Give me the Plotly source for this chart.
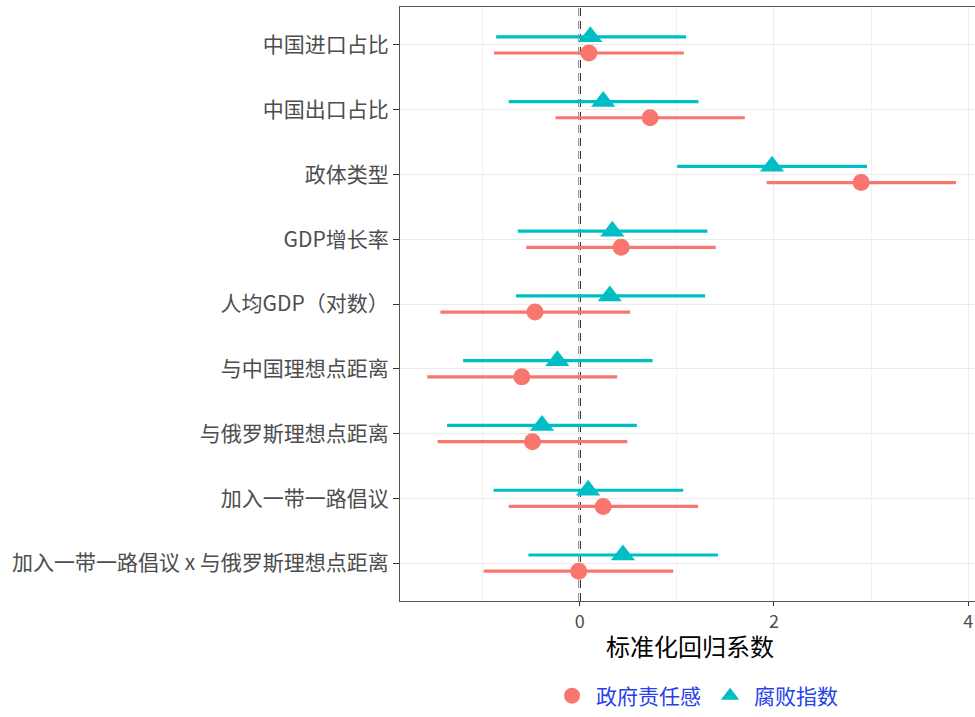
import plotly.graph_objects as go

variables = ["中国进口占比", "中国出口占比", "政体类型", "GDP增长率", "人均GDP（对数）",
             "与中国理想点距离", "与俄罗斯理想点距离", "加入一带一路倡议",
             "加入一带一路倡议 x 与俄罗斯理想点距离"]

# 政府责任感 (red)
gov_est = [0.095, 0.725, 2.898, 0.427, -0.46, -0.596, -0.486, 0.242, -0.01]
gov_lo = [-0.883, -0.249, 1.925, -0.55, -1.433, -1.569, -1.463, -0.73, -0.988]
gov_hi = [1.072, 1.70, 3.875, 1.40, 0.52, 0.386, 0.49, 1.219, 0.963]

# 腐败指数 (teal)
cor_est = [0.11, 0.242, 1.98, 0.336, 0.31, -0.23, -0.388, 0.087, 0.445]
cor_lo = [-0.86, -0.73, 1.004, -0.637, -0.656, -1.20, -1.365, -0.886, -0.528]
cor_hi = [1.095, 1.223, 2.958, 1.314, 1.29, 0.751, 0.589, 1.065, 1.423]

series_names = ["政府责任感", "腐败指数"]
x_ticks = [0, 2, 4]
x_title = "标准化回归系数"

RED = "#F8766D"
TEAL = "#00BFC4"
n = len(variables)
base = [n - 1 - i for i in range(n)]
dodge = 0.125

fig = go.Figure()

def add_series(name, est, lo, hi, color, symbol, size, offset):
    ys = [b + offset for b in base]
    fig.add_trace(go.Scatter(
        x=est, y=ys, mode="markers", name=name,
        marker=dict(color=color, symbol=symbol, size=size, line=dict(width=0)),
        error_x=dict(type="data", symmetric=False,
                     array=[h - e for h, e in zip(hi, est)],
                     arrayminus=[e - l for e, l in zip(est, lo)],
                     color=color, thickness=3.2, width=0),
    ))

add_series(series_names[0], gov_est, gov_lo, gov_hi, RED, "circle", 17, -dodge)
add_series(series_names[1], cor_est, cor_lo, cor_hi, TEAL, "triangle-up", 21, dodge)

fig.add_shape(type="line", x0=0, x1=0, y0=0, y1=1, yref="paper", xref="x",
              line=dict(color="black", width=2.2, dash="8px,5px"), layer="between")

fig.add_annotation(text=x_title, x=0.505, y=-0.0755, xref="paper", yref="paper",
                   xanchor="center", yanchor="middle", showarrow=False,
                   font=dict(size=24, color="black"))

fig.update_layout(
    width=975, height=717,
    margin=dict(l=400, r=0, t=7, b=114),
    plot_bgcolor="white", paper_bgcolor="white",
    font=dict(family="Noto Sans CJK SC, Noto Sans, sans-serif"),
    showlegend=True,
    legend=dict(orientation="h", x=0.514, xanchor="center", y=-0.16, yanchor="middle",
                font=dict(size=21, color="#2541E8"), itemwidth=38,
                traceorder="normal"),
)
fig.update_xaxes(
    range=[-1.85, 4.07], tickvals=x_ticks, ticktext=[str(t) for t in x_ticks],
    automargin=False,
    showgrid=True, gridcolor="#EBEBEB", gridwidth=1.2,
    minor=dict(dtick=1, tick0=0, showgrid=True, gridcolor="#F2F2F2", gridwidth=0.8),
    zeroline=False, showline=True, linecolor="#555555", linewidth=1, mirror=True,
    ticks="outside", ticklen=4, tickcolor="#333333", tickwidth=1.2,
    tickfont=dict(size=18, color="#4D4D4D"),
)
fig.update_yaxes(
    range=[-0.585, n - 1 + 0.585], tickvals=base, ticktext=variables,
    automargin=False,
    showgrid=True, gridcolor="#EBEBEB", gridwidth=1.2, zeroline=False,
    showline=True, linecolor="#555555", linewidth=1,
    ticks="outside", ticklen=6, tickcolor="#333333", tickwidth=1.2,
    tickfont=dict(size=21, color="#4D4D4D"),
)

fig.write_html("out.html", config={"displayModeBar": False},
               post_script="document.body.style.margin='0';")
